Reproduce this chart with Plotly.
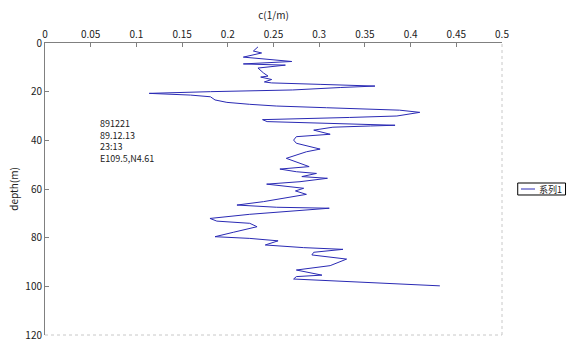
import plotly.graph_objects as go

# Attenuation profile: depth (m) and c (1/m)
depth = [1.6, 3.3, 4.1, 5.8, 7.6, 8.6, 9.1, 9.7, 10.3, 12.3, 13.6, 14.0, 15.0, 16.0, 16.4,
         17.0, 17.7, 18.3, 19.3, 20.0, 20.7, 21.4, 22.1, 23.4, 24.4, 25.2, 25.9, 26.6,
         27.2, 27.6, 28.5, 30.0, 30.6, 31.0, 31.5, 32.3, 32.7, 33.3, 33.8, 34.1, 34.6,
         35.8, 37.5, 38.5, 39.9, 41.2, 43.6, 44.7, 47.4, 50.8, 51.8, 52.9, 53.6, 54.9,
         55.6, 57.0, 58.0, 59.7, 60.8, 62.2, 63.8, 65.2, 66.6, 67.5, 67.9, 69.1, 70.4,
         72.1, 73.2, 74.1, 75.5, 77.8, 79.6, 80.3, 81.3, 83.0, 84.1, 84.8, 86.0, 87.1,
         88.8, 91.5, 93.3, 95.4, 96.0, 97.0, 98.4, 99.8]
c_values = [0.233, 0.228, 0.237, 0.217, 0.270, 0.217, 0.263, 0.243, 0.233, 0.239, 0.244, 0.236,
            0.248, 0.240, 0.248, 0.301, 0.361, 0.323, 0.271, 0.181, 0.114, 0.159, 0.181, 0.186,
            0.199, 0.224, 0.253, 0.308, 0.363, 0.388, 0.410, 0.385, 0.333, 0.280, 0.238, 0.243,
            0.279, 0.326, 0.383, 0.356, 0.315, 0.294, 0.312, 0.275, 0.272, 0.275, 0.301, 0.286,
            0.264, 0.289, 0.257, 0.275, 0.297, 0.281, 0.309, 0.279, 0.2425, 0.283, 0.274, 0.286,
            0.261, 0.239, 0.210, 0.2535, 0.311, 0.268, 0.224, 0.1805, 0.188, 0.224, 0.232, 0.206,
            0.186, 0.224, 0.255, 0.241, 0.283, 0.326, 0.294, 0.292, 0.330, 0.312, 0.275, 0.303,
            0.275, 0.272, 0.352, 0.432]

x_ticks = [0, 0.05, 0.1, 0.15, 0.2, 0.25, 0.3, 0.35, 0.4, 0.45, 0.5]
x_tick_labels = ["0", "0.05", "0.1", "0.15", "0.2", "0.25", "0.3", "0.35", "0.4", "0.45", "0.5"]
y_ticks = [0, 20, 40, 60, 80, 100, 120]
y_tick_labels = ["0", "20", "40", "60", "80", "100", "120"]

station_note = ["891221", "89.12.13", "23:13", "E109.5,N4.61"]
series_name = "系列1"

FONT = "Noto Sans CJK SC"
TEXT = "#222222"
LINE_COLOR = "#2a2ab4"

fig = go.Figure()
fig.add_trace(go.Scatter(
    x=c_values, y=depth, mode="lines", name=series_name,
    line=dict(color=LINE_COLOR, width=1), showlegend=False,
))

# compact key box to the right of the plot area (paper coordinates)
key_shapes = [
    dict(type="rect", xref="paper", yref="paper", x0=1.0344, x1=1.139, y0=0.4795, y1=0.5205,
         line=dict(color="#000000", width=1), fillcolor="white"),
    dict(type="line", xref="paper", yref="paper", x0=1.0416, x1=1.0722, y0=0.5, y1=0.5,
         line=dict(color=LINE_COLOR, width=1)),
]
key_text = dict(text=series_name, xref="paper", yref="paper", x=1.0755, y=0.5,
                xanchor="left", yanchor="middle", showarrow=False,
                font=dict(family=FONT, size=9, color=TEXT))

note = dict(text="<br>".join(station_note), xref="paper", yref="paper",
            x=0.116, y=0.753, xanchor="left", yanchor="top", align="left",
            showarrow=False, font=dict(family=FONT, size=9, color=TEXT))

fig.update_layout(
    width=570, height=350,
    margin=dict(l=45, r=68, t=43, b=15),
    paper_bgcolor="white", plot_bgcolor="white",
    font=dict(family=FONT, size=10, color=TEXT),
    showlegend=False,
    xaxis=dict(
        side="top", range=[0, 0.5], tickvals=x_ticks, ticktext=x_tick_labels,
        ticks="inside", ticklen=4, tickcolor="#808080",
        showline=True, linecolor="#808080", linewidth=1,
        showgrid=False, zeroline=False, automargin=False,
        title=dict(text="c(1/m)", font=dict(size=10), standoff=4),
    ),
    yaxis=dict(
        range=[120, 0], tickvals=y_ticks, ticktext=y_tick_labels,
        ticks="inside", ticklen=4, tickcolor="#808080",
        showline=True, linecolor="#808080", linewidth=1,
        showgrid=False, zeroline=False, automargin=False,
        title=dict(text="depth(m)", font=dict(size=10), standoff=4),
    ),
    shapes=[
        dict(type="line", xref="paper", yref="paper", x0=1, x1=1, y0=0, y1=1,
             line=dict(color="#c8c8c8", width=1, dash="dot")),
        dict(type="line", xref="paper", yref="paper", x0=0, x1=1, y0=0, y1=0,
             line=dict(color="#c8c8c8", width=1, dash="dot")),
    ] + key_shapes,
    annotations=[note, key_text],
)

fig.write_html("out.html")
